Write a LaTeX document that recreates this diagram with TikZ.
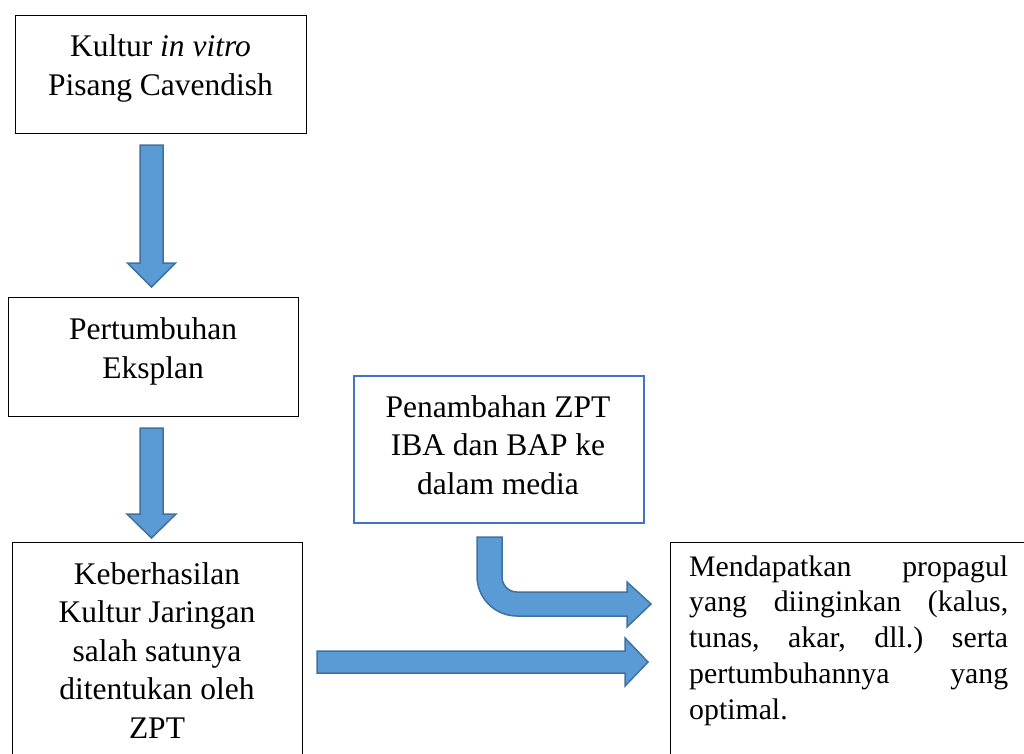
\documentclass[tikz,border=0pt]{standalone}
\usepackage{fontspec}
\setmainfont{Liberation Serif}
\definecolor{arrowfill}{HTML}{5B9BD5}
\definecolor{arrowline}{HTML}{41719C}
\definecolor{boxblue}{HTML}{4472C4}
\frenchspacing
\begin{document}
\begin{tikzpicture}[x=1pt,y=-1pt,
  box/.style={draw=black, line width=1pt, inner sep=0pt, anchor=north west},
  bluebox/.style={draw=boxblue, line width=2pt, inner sep=0pt, anchor=north west},
  blockarrow/.style={fill=arrowfill, draw=arrowline, line width=1.5pt, line join=miter},
  txt/.style={anchor=base, align=center, inner sep=0pt, font=\fontsize{31.5}{38.5}\selectfont},
  txtj/.style={anchor=base west, text width=319pt, align=justify, inner sep=0pt,
    font={\fontsize{29.8}{35.8}\selectfont\tolerance=10000\hyphenpenalty=10000\frenchspacing}}]
\useasboundingbox (0,0) rectangle (1024,753);
\fill[white] (0,0) rectangle (1024,753);
\clip (0,0) rectangle (1024,753);

% boxes
\node[box, minimum width=291pt, minimum height=118pt] (b1) at (15,15) {};
\node[box, minimum width=290pt, minimum height=119pt] (b2) at (8,297) {};
\node[box, minimum width=290pt, minimum height=260pt] (b3) at (12,542) {};
\node[bluebox, minimum width=290pt, minimum height=147pt] (b4) at (353,375) {};
\node[box, minimum width=380pt, minimum height=260pt] (b5) at (670,542) {};

% texts (base = baseline of the last line)
\node[txt] (t1) at (160.5,95) {Kultur \textit{in vitro}\\Pisang Cavendish};
\node[txt] (t2) at (153,378) {Pertumbuhan\\Eksplan};
\node[txt] (t3) at (157,738) {Keberhasilan\\Kultur Jaringan\\salah satunya\\ditentukan oleh\\ZPT};
\node[txt] (t4) at (498,494) {Penambahan ZPT\\IBA dan BAP ke\\dalam media};
\node[txtj] (t5) at (689,576) {Mendapatkan propagul\linebreak yang diinginkan (kalus,\linebreak tunas, akar, dll.) serta\linebreak pertumbuhannya yang\linebreak optimal.};

% block arrows
\draw[blockarrow] (140,145) -- (163,145) -- (163,263) -- (175.5,263) -- (151.5,287)
  -- (127.5,263) -- (140,263) -- cycle;
\draw[blockarrow] (140,428) -- (163,428) -- (163,514) -- (176,514) -- (151.5,538)
  -- (127,514) -- (140,514) -- cycle;
\draw[blockarrow] (317,651) -- (625,651) -- (625,638) -- (648,662) -- (625,686)
  -- (625,673) -- (317,673) -- cycle;
\draw[blockarrow] (477,537) -- (502,537) -- (502,577)
  .. controls (502,585.3) and (508.7,592) .. (517,592) -- (627,592) -- (627,582)
  -- (651,604) -- (627,627) -- (627,616) -- (517,616)
  .. controls (494.9,616) and (477,598.1) .. (477,576) -- cycle;
\end{tikzpicture}
\end{document}
